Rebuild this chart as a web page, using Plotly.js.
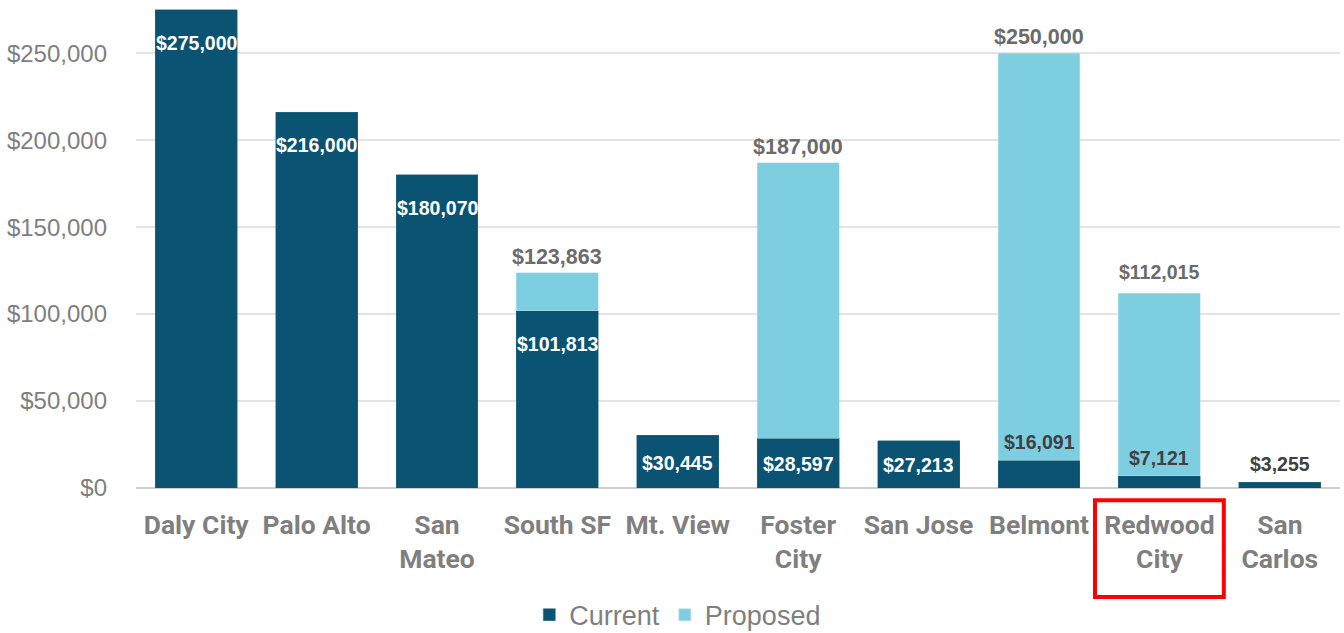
<!DOCTYPE html>
<html>
<head>
<meta charset="utf-8">
<script src="https://cdn.plot.ly/plotly-3.0.1.min.js"></script>
<style>html,body{margin:0;padding:0;background:#fff;}#chart{width:1344px;height:633px;}</style>
</head>
<body>
<div id="chart"></div>
<script>
const categories = ["Daly City", "Palo Alto", "San<br>Mateo", "South SF", "Mt. View", "Foster<br>City", "San Jose", "Belmont", "Redwood<br>City", "San<br>Carlos"];
const currentValues = [275000, 216000, 180070, 101813, 30445, 28597, 27213, 16091, 7121, 3255];
const proposedTotals = [null, null, null, 123863, null, 187000, null, 250000, 112015, null];
const highlightIndex = 8;

const idx = categories.map((_, i) => i);
const proposedIncrements = proposedTotals.map((t, i) => t == null ? null : t - currentValues[i]);

const yMax = 280000, plotH = 487;
const fmt = v => "$" + v.toLocaleString("en-US");

const annotations = [];
currentValues.forEach((v, i) => {
  const hPx = v / yMax * plotH;
  if (hPx > 45) {
    annotations.push({x: i, y: v, xref: "x", yref: "y", text: "<b>" + fmt(v) + "</b>", showarrow: false,
      yanchor: "middle", yshift: -Math.min(33, hPx / 2 + 1), font: {family: "Liberation Sans, Arial", size: 19.5, color: "#ffffff"}});
  } else {
    annotations.push({x: i, y: v, xref: "x", yref: "y", text: "<b>" + fmt(v) + "</b>", showarrow: false,
      yanchor: "middle", yshift: 18, font: {family: "Liberation Sans, Arial", size: 19.5, color: "#404040"}});
  }
});
proposedTotals.forEach((t, i) => {
  if (t == null) return;
  const small = i === highlightIndex;
  annotations.push({x: i, y: t, xref: "x", yref: "y", text: "<b>" + fmt(t) + "</b>", showarrow: false,
    yanchor: "middle", yshift: small ? 21 : 16, font: {family: "Liberation Sans, Arial", size: small ? 19.5 : 21.5, color: "#6b6b6b"}});
});

const traces = [
  {type: "bar", name: "Current", x: idx, y: currentValues, marker: {color: "#0b5372", line: {color: "#2f6d86", width: 0.5}}, hoverinfo: "skip"},
  {type: "bar", name: "Proposed", x: idx, y: proposedIncrements, marker: {color: "#7ecee2", line: {color: "#b8e3ee", width: 0.5}}, hoverinfo: "skip"}
];

const layout = {
  width: 1344, height: 633,
  margin: {l: 136, r: 4, t: 1, b: 145, autoexpand: false},
  barmode: "stack", bargap: 0.32,
  paper_bgcolor: "#ffffff", plot_bgcolor: "#ffffff",
  showlegend: true,
  legend: {orientation: "h", x: 0.45, xanchor: "center", yref: "paper", y: -0.261, yanchor: "middle",
    font: {family: "Liberation Sans, Arial", size: 27, color: "#7f7f7f"}, itemwidth: 30, traceorder: "normal"},
  xaxis: {tickmode: "array", tickvals: idx, ticktext: categories, range: [-0.5, categories.length - 0.5],
    showgrid: false, zeroline: false, showline: false, ticks: "", ticklabelstandoff: 18, automargin: false,
    tickfont: {family: "Roboto, Lato, sans-serif", size: 26.5, color: "#7f7f7f", weight: "bold"}},
  yaxis: {range: [0, yMax], tickvals: [0, 50000, 100000, 150000, 200000, 250000],
    ticktext: ["$0", "$50,000", "$100,000", "$150,000", "$200,000", "$250,000"], automargin: false,
    showgrid: true, gridcolor: "#e3e3e3", gridwidth: 1.5, zeroline: true, zerolinecolor: "#cfcfcf", zerolinewidth: 2,
    showline: false, ticks: "", ticklabelstandoff: 28,
    tickfont: {family: "Liberation Sans, Arial", size: 24, color: "#7f7f7f"}},
  annotations: annotations,
  shapes: [{type: "rect", xref: "x", yref: "paper", x0: highlightIndex - 0.535, x1: highlightIndex + 0.535,
    y0: -0.025, y1: -0.224, line: {color: "#ff0000", width: 4}, fillcolor: "rgba(0,0,0,0)"}]
};

Plotly.newPlot("chart", traces, layout, {staticPlot: true, displayModeBar: false});
</script>
</body>
</html>
